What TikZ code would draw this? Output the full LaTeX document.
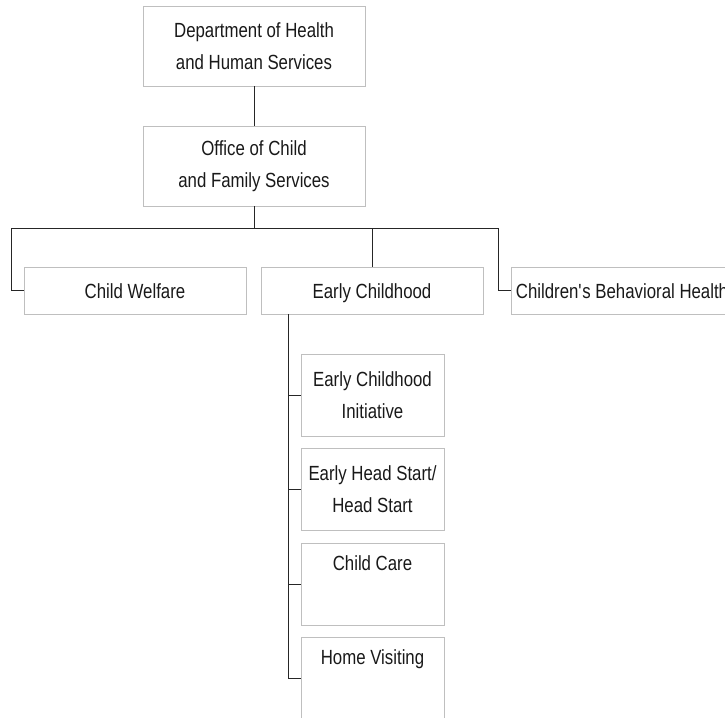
\documentclass[tikz,border=0pt]{standalone}
\usepackage{fontspec}
\setmainfont[FakeStretch=0.82]{Liberation Sans}
\usepackage{tikz}

\begin{document}
\begin{tikzpicture}
          [x=1pt,y=-1pt,every node/.style={draw=black!25,line width=0.8pt,shape=rectangle,inner sep=0pt,align=center,text=black!90,font=\fontsize{20.5}{32}\selectfont},
           topbox/.style={minimum width=222pt,minimum height=80pt},
           unitbox/.style={minimum width=222pt,minimum height=47pt,text height=15pt,text depth=0pt},
           subbox/.style={minimum width=143pt,minimum height=82pt},
           link/.style={draw=black!85,line width=0.8pt}]

          \useasboundingbox (0,0) rectangle (725,717);

          \node[topbox] (dhhs) at (254,46) {Department of Health\\and Human Services};
          \node[topbox] (ocfs) at (254,166) {Office of Child\\and Family Services};
          \node[unitbox] (welfare) at (135,290.5) {Child Welfare};
          \node[unitbox] (early) at (372,290.5) {Early Childhood};
          \node[unitbox] (behav) at (622,290.5) {Children\textquotesingle s Behavioral Health};
          \node[subbox] (eci) at (372.5,395) {Early Childhood\\Initiative};
          \node[subbox] (ehs) at (372.5,489.5) {Early Head Start/\\Head Start};
          \node[subbox] (care) at (372.5,584) {Child Care\\\strut};
          \node[subbox] (visit) at (372.5,678) {Home Visiting\\\strut};

          \coordinate (bus) at (254,228);
          \coordinate (busl) at (11,228);
          \coordinate (busr) at (498,228);
          \coordinate (spine) at (288,314);

          \draw[link] (dhhs) -- (ocfs);
          \draw[link] (ocfs) -- (bus);
          \draw[link] (busl) -- (busr);
          \draw[link] (busl) |- (welfare);
          \draw[link] (busr) |- (behav);
          \draw[link] (bus -| early) -- (early);
          \draw[link] (spine) |- (visit);
          \draw[link] (spine |- eci) -- (eci);
          \draw[link] (spine |- ehs) -- (ehs);
          \draw[link] (spine |- care) -- (care);
        \end{tikzpicture}
\end{document}
